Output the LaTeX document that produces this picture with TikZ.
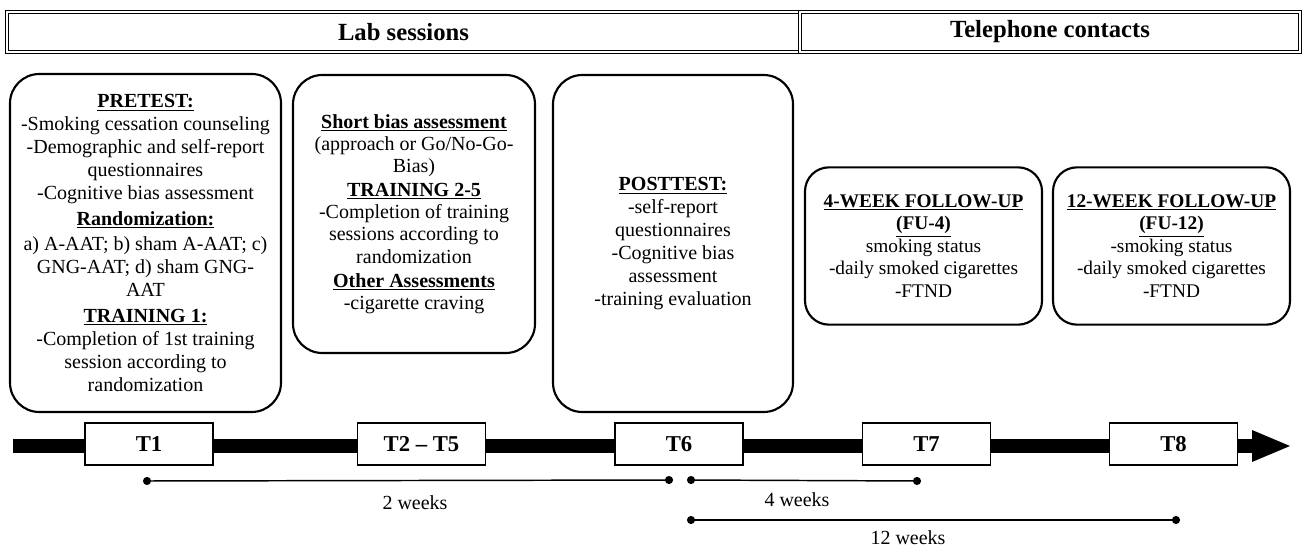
\documentclass[tikz,border=0pt]{standalone}
\usepackage{fontspec}
\setmainfont{Liberation Serif}
\usetikzlibrary{arrows.meta}
\begin{document}
\begin{tikzpicture}[x=0.75pt,y=-0.75pt,
  box/.style={draw, line width=1.6pt, rounded corners=22pt, align=center, inner sep=0pt, font=\fontsize{15}{17.2}\selectfont},
  fubox/.style={box, rounded corners=18pt, minimum width=177.75pt, minimum height=118pt, font=\fontsize{14.5}{16.8}\selectfont},
  tbox/.style={draw, line width=1.4pt, fill=white, minimum width=96pt, minimum height=31.5pt, inner sep=0pt, font=\bfseries\fontsize{17}{19}\selectfont},
  span/.style={line width=1.1pt, {Circle[length=6pt]}-{Circle[length=6pt]}},
  hdr/.style={draw, double, double distance=1.3pt, line width=0.6pt, inner sep=0pt, minimum height=30pt, font=\bfseries\fontsize{18.5}{20}\selectfont},
  lbl/.style={font=\fontsize{15}{17}\selectfont, inner sep=0pt}
]
\useasboundingbox (0,0) rectangle (1306,549);
% header
\node[hdr, minimum width=594.75pt] (lab) at (403.5,32) {Lab sessions};
\node[hdr, minimum width=375pt] (tel) at (1050,32) {Telephone contacts};
% boxes
\node[box, minimum width=203.25pt, minimum height=253.5pt] (pre) at (145.5,243) {%
\textbf{\underline{PRETEST:}}\\
-Smoking cessation counseling\\
-Demographic and self-report\\
questionnaires\\
-Cognitive bias assessment\\[2pt]
\textbf{\underline{Randomization:}}\\[2pt]
a) A-AAT; b) sham A-AAT; c)\\
GNG-AAT; d) sham GNG-\\
AAT\\[2pt]
\textbf{\underline{TRAINING 1:}}\\
-Completion of 1st training\\
session according to\\
randomization};
\node[box, minimum width=181.5pt, minimum height=208.5pt, font=\fontsize{15}{16.6}\selectfont] (mid) at (414,214) {%
\textbf{\underline{Short bias assessment}}\\
(approach or Go/No-Go-\\
Bias)\\[1.5pt]
\textbf{\underline{TRAINING 2-5}}\\
-Completion of training\\
sessions according to\\
randomization\\[1.5pt]
\textbf{\underline{Other Assessments}}\\
-cigarette craving};
\node[box, minimum width=180pt, minimum height=252.75pt] (post) at (673,243.5) {%
\textbf{\underline{POSTTEST:}}\\
-self-report\\
questionnaires\\
-Cognitive bias\\
assessment\\
-training evaluation};
\node[fubox] (fu4) at (923.5,246) {%
\textbf{\underline{4-WEEK FOLLOW-UP}}\\
\textbf{\underline{(FU-4)}}\\
smoking status\\
-daily smoked cigarettes\\
-FTND};
\node[fubox] (fu12) at (1171.5,246) {%
\textbf{\underline{12-WEEK FOLLOW-UP}}\\
\textbf{\underline{(FU-12)}}\\
-smoking status\\
-daily smoked cigarettes\\
-FTND};
% timeline
\fill (13,439) rectangle (1254,453);
\fill (1252,430) -- (1290,446) -- (1252,462) -- cycle;
\node[tbox] (t1) at (149,444) {T1};
\node[tbox] (t2) at (421.5,444) {T2 -- T5};
\node[tbox] (t6) at (679,444) {T6};
\node[tbox] (t7) at (926.5,444) {T7};
\node[tbox] (t8) at (1173.5,444) {T8};
% spans
\coordinate (a0) at (143,481);
\coordinate (a1) at (673,480);
\coordinate (b0) at (687,480);
\coordinate (b1) at (921,481);
\coordinate (c0) at (687,520);
\coordinate (c1) at (1180,520);
\draw[span] (a0) -- (a1);
\draw[span] (b0) -- (b1);
\draw[span] (c0) -- (c1);
\node[lbl] (l2) at (415,503) {2 weeks};
\node[lbl] (l4) at (797,500) {4 weeks};
\node[lbl] (l12) at (908,538) {12 weeks};
\end{tikzpicture}
\end{document}
